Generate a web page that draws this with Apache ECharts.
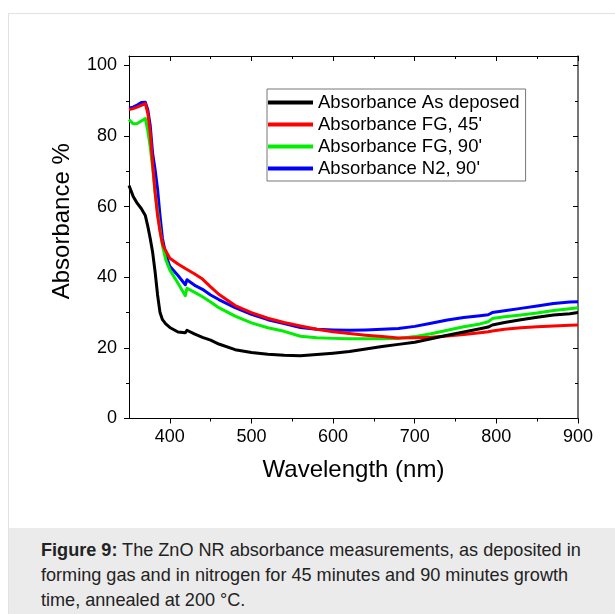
<!DOCTYPE html>
<html>
<head>
<meta charset="utf-8">
<script src="https://cdn.jsdelivr.net/npm/echarts@6/dist/echarts.min.js"></script>
<style>
  html, body { margin: 0; padding: 0; width: 615px; height: 614px; overflow: hidden; background: #fff; }
  #card { position: absolute; left: 8px; top: 13px; width: 620px; height: 620px; border: 1px solid #e2e2e2; box-sizing: border-box; }
  #caption { position: absolute; left: 9px; top: 528px; width: 606px; height: 86px; background: #ebebeb; }
  #captext { position: absolute; left: 41px; top: 538px; width: 562px; font-family: "Liberation Sans", Arial, sans-serif; font-size: 18.1px; line-height: 25px; color: #222; }
  #chart { position: absolute; left: 0; top: 0; width: 615px; height: 528px; }
</style>
</head>
<body>
<div id="card"></div>
<div id="caption"></div>
<div id="captext"><b>Figure 9:</b> The ZnO NR absorbance measurements, as deposited in forming gas and in nitrogen for 45 minutes and 90 minutes growth time, annealed at 200 °C.</div>
<div id="chart"></div>
<script>
// ---- Data ----
const wavelengths = [350, 355, 360, 365, 370, 373, 376, 379, 382, 385, 388, 391, 395, 400, 410, 419, 421, 430, 440, 450, 460, 480, 500, 520, 540, 560, 580, 600, 620, 640, 660, 680, 700, 720, 740, 760, 780, 790, 795, 810, 830, 850, 870, 890, 900];
const asDeposed = [66.0, 63.0, 61.0, 59.5, 57.5, 54.5, 51.0, 47.0, 41.5, 35.0, 30.0, 28.0, 26.8, 25.8, 24.5, 24.3, 25.0, 24.0, 23.0, 22.2, 21.1, 19.5, 18.7, 18.2, 17.9, 17.8, 18.1, 18.5, 19.0, 19.7, 20.4, 21.0, 21.6, 22.6, 23.6, 24.5, 25.4, 25.9, 26.5, 27.2, 28.0, 28.7, 29.3, 29.7, 30.0];
const fg45 = [87.5, 87.8, 88.2, 88.7, 89.2, 86.5, 81.0, 72.0, 64.0, 57.5, 53.0, 49.5, 47.5, 45.4, 43.8, 42.5, 43.0, 41.0, 39.5, 37.3, 35.2, 32.0, 30.0, 28.4, 27.2, 26.2, 25.3, 24.6, 24.1, 23.6, 23.2, 22.8, 22.9, 23.0, 23.4, 23.8, 24.3, 24.6, 24.8, 25.3, 25.7, 26.0, 26.2, 26.4, 26.5];
const fg90 = [84.7, 83.5, 83.6, 84.3, 85.0, 81.5, 77.0, 71.0, 64.0, 58.5, 53.5, 49.0, 45.0, 42.1, 38.3, 34.8, 36.9, 35.8, 34.5, 33.0, 31.4, 29.0, 27.1, 25.7, 24.7, 23.3, 22.9, 22.7, 22.6, 22.6, 22.6, 22.7, 23.2, 24.0, 25.0, 26.0, 26.8, 27.4, 28.3, 28.8, 29.3, 29.9, 30.6, 31.1, 31.4];
const n290 = [88.0, 88.2, 88.8, 89.5, 89.6, 87.5, 83.0, 75.0, 70.5, 65.0, 57.5, 51.0, 46.5, 43.1, 40.5, 37.9, 39.3, 37.8, 36.6, 35.0, 33.7, 31.4, 29.5, 28.0, 26.9, 25.8, 25.3, 25.1, 25.0, 25.1, 25.3, 25.5, 26.1, 27.0, 27.9, 28.6, 29.1, 29.4, 30.0, 30.5, 31.2, 31.9, 32.6, 33.0, 33.1];
const seriesNames = ["Absorbance As deposed", "Absorbance FG, 45'", "Absorbance FG, 90'", "Absorbance N2, 90'"];
const seriesColors = ["#000000", "#ff0000", "#00ee00", "#0000ff"];
const xMajorTicks = [400, 500, 600, 700, 800, 900];
const xMinorTicks = [450, 550, 650, 750, 850];
const yMajorTicks = [0, 20, 40, 60, 80, 100];
const yMinorTicks = [10, 30, 50, 70, 90];

const allValues = [asDeposed, fg45, fg90, n290];
const FONT = '"Liberation Sans", Arial, sans-serif';

function xAx(pos, ticks, len, inside, showLine, labels, extra) {
  return Object.assign({
    type: 'value', min: 350, max: 900, position: pos, gridIndex: 0,
    splitLine: { show: false },
    axisLine: { show: showLine, onZero: false, lineStyle: { color: '#000', width: 1 } },
    axisTick: { show: true, inside: inside, length: len, customValues: ticks, lineStyle: { color: '#000', width: 1 } },
    axisLabel: labels ? { show: true, customValues: ticks, fontSize: 18, color: '#000', fontFamily: FONT, margin: 10 } : { show: false }
  }, extra || {});
}
function yAx(pos, ticks, len, inside, showLine, labels, lineColor, extra) {
  return Object.assign({
    type: 'value', min: 0, max: 102.7, position: pos, gridIndex: 0,
    splitLine: { show: false },
    axisLine: { show: showLine, onZero: false, lineStyle: { color: lineColor || '#000', width: lineColor ? 1.6 : 1 } },
    axisTick: { show: true, inside: inside, length: len, customValues: ticks, lineStyle: { color: '#000', width: 1 } },
    axisLabel: labels ? { show: true, customValues: ticks, fontSize: 18, color: '#000', fontFamily: FONT, margin: 12 } : { show: false }
  }, extra || {});
}

const chart = echarts.init(document.getElementById('chart'), null, { renderer: 'canvas' });
chart.setOption({
  animation: false,
  backgroundColor: 'transparent',
  grid: { left: 129, top: 56, right: 37, bottom: 528 - 418.5, containLabel: false },
  legend: {
    orient: 'vertical', left: 267, top: 89,
    data: seriesNames,
    icon: 'rect', itemWidth: 45, itemHeight: 4, itemGap: 3,
    padding: [4, 6, 3, 1],
    borderColor: '#777', borderWidth: 1, backgroundColor: '#fff',
    textStyle: { fontSize: 18.5, color: '#000', fontFamily: FONT, lineHeight: 19 }
  },
  xAxis: [
    xAx('bottom', xMajorTicks, 5, false, true, true, {
      name: 'Wavelength (nm)', nameLocation: 'middle', nameGap: 40,
      nameTextStyle: { fontSize: 24, color: '#000', fontFamily: FONT }
    }),
    xAx('bottom', xMinorTicks, 3, false, false, false),
    xAx('top', xMajorTicks, 5, true, true, false),
    xAx('top', xMinorTicks, 3, true, false, false)
  ],
  yAxis: [
    yAx('left', yMajorTicks, 5, false, true, true, null, {
      name: 'Absorbance %', nameLocation: 'middle', nameGap: 55, nameRotate: 90,
      nameTextStyle: { fontSize: 24, color: '#000', fontFamily: FONT, padding: [0, 0, 0, 32] }
    }),
    yAx('left', yMinorTicks, 3, false, false, false),
    yAx('right', yMajorTicks, 5, true, true, false, '#555'),
    yAx('right', yMinorTicks, 3, true, false, false)
  ],
  series: seriesNames.map((name, i) => ({
    name: name, type: 'line', xAxisIndex: 0, yAxisIndex: 0,
    showSymbol: false, symbol: 'none',
    color: seriesColors[i],
    lineStyle: { width: 3, color: seriesColors[i], join: 'round' },
    data: wavelengths.map((w, k) => [w, allValues[i][k]]),
    z: 10 - i
  }))
});
</script>
</body>
</html>
